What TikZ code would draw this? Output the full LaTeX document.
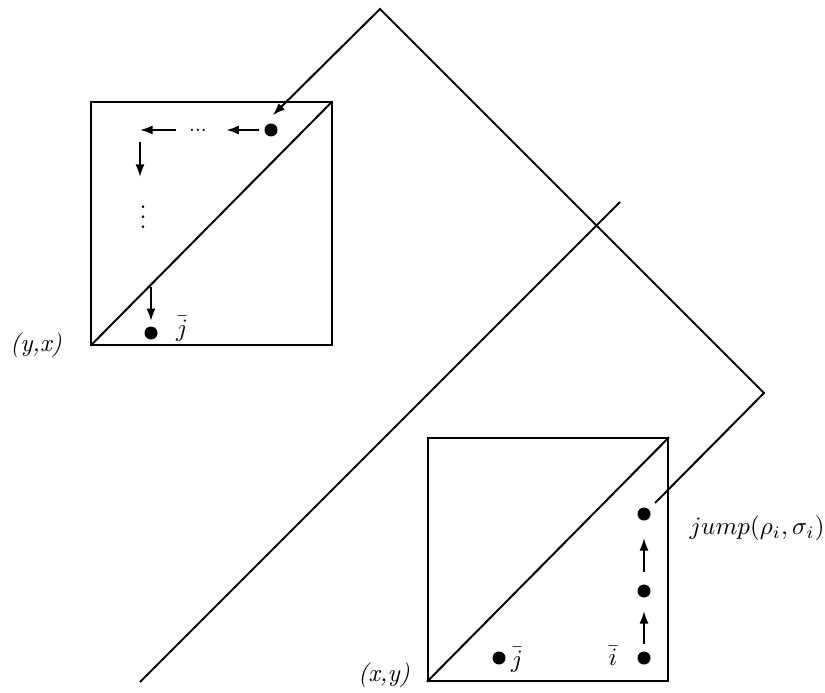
\documentclass[tikz,border=0pt]{standalone}
\usepackage{amsmath,amssymb}
\usetikzlibrary{arrows.meta,positioning,calc}
\tikzset{sq/.style={draw,line width=0.8pt,minimum width=96pt,minimum height=97pt,inner sep=0},
  dot/.style={circle,fill=black,minimum size=5.2pt,inner sep=0},
  lbl/.style={inner sep=1pt},
  arr/.style={-{Latex[length=5pt,width=3.6pt]},line width=0.8pt}}
\begin{document}
\begin{tikzpicture}[x=0.4pt,y=-0.4pt,line width=0.8pt]
\useasboundingbox (0,0) rectangle (825,692);
% left square (y,x)
\node[sq] (bl) at (211.5,223.5) {};
\draw (bl.south west) -- (bl.north east);
\node[dot] (ua) at (271,130) {};
\node[inner sep=0,font=\footnotesize] (hd) at (198,130) {...};
\coordinate (turn) at (140,130);
\coordinate (dn1) at (140,177);
\node[inner sep=0] (vd) at (143,210) {$\vdots$};
\coordinate (dn2s) at (151,287);
\node[dot] (ub) at (151,333) {};
\node[lbl] (jl) at (182,329) {$\bar{j}$};
\node[lbl] (yx) at (36,345) {\textit{(y,x)}};
\draw[arr,shorten <=1.8pt,shorten >=7.4pt] (ua) -- (hd);
\draw[arr,shorten <=5pt] (hd) -- (turn);
\draw[arr,shorten <=4.8pt] (turn) -- (dn1);
\draw[arr,shorten >=1.8pt] (dn2s) -- (ub);
% right square (x,y)
\node[sq] (br) at (548,559.5) {};
\draw (br.south west) -- (br.north east);
\node[dot] (r1) at (644,658) {};
\node[dot] (r2) at (644,591) {};
\node[dot] (r3) at (644,514) {};
\node[dot] (rj) at (499,658) {};
\node[lbl] (jr) at (517,660) {$\bar{j}$};
\node[lbl] (ir) at (613,656) {$\bar{i}$};
\node[lbl] (xy) at (384,675) {\textit{(x,y)}};
\node[lbl] (jp) at (757,528) {$jump(\rho_i,\sigma_i)$};
\draw[arr,shorten <=2.6pt,shorten >=5pt] (r1) -- (r2);
\draw[arr,shorten <=4.6pt,shorten >=6.6pt] (r2) -- (r3);
% long line and folded path
\coordinate (lo) at (140,682);
\coordinate (hi) at (620,202);
\draw (lo) -- (hi);
\coordinate (bend) at (764,393);
\coordinate (apex) at (380,9);
\draw[arr,shorten >=1pt] ($(r3)+(11,-11)$) -- (bend) -- (apex) -- ($(ua)+(0,-13)$);
\end{tikzpicture}
\end{document}
